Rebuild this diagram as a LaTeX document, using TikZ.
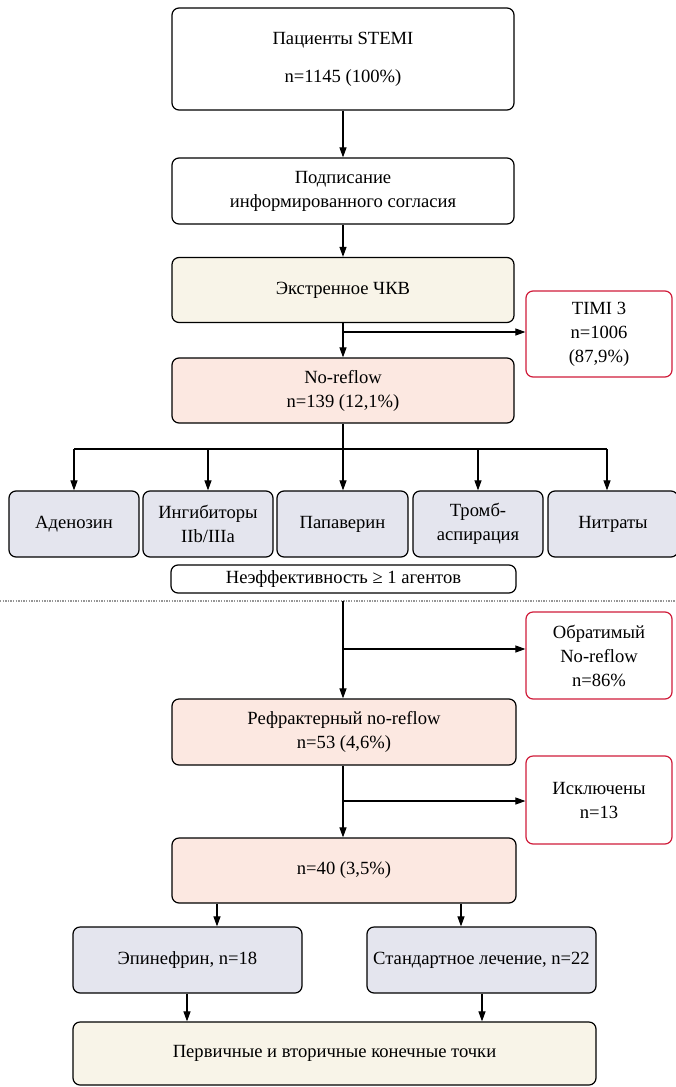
\documentclass[tikz,border=0pt]{standalone}
\usepackage{fontspec}
\setmainfont{Liberation Serif}
\usetikzlibrary{arrows.meta,calc}
\definecolor{cream}{RGB}{248,244,232}
\definecolor{pinkbox}{RGB}{252,232,225}
\definecolor{lav}{RGB}{228,229,238}
\definecolor{redb}{RGB}{208,28,58}
\definecolor{dotgray}{RGB}{150,150,150}
\begin{document}
\begin{tikzpicture}[x=1pt,y=-1pt,
  box/.style={draw=black,line width=1.2pt,rounded corners=7pt,align=center,inner sep=0pt,
    font=\fontsize{18.6}{24}\selectfont},
  whitebox/.style={box,fill=white},
  creambox/.style={box,fill=cream},
  pinkb/.style={box,fill=pinkbox},
  lavbox/.style={box,fill=lav},
  redbox/.style={box,draw=redb,fill=white},
  arr/.style={line width=1.1pt,-{Triangle[length=10pt,width=7pt]}},
  ln/.style={line width=1.1pt}]
\useasboundingbox (0,0) rectangle (675,1087);

% top part
\node[whitebox,minimum width=342pt,minimum height=102pt] (top) at (343,59)
  {Пациенты STEMI\\[14pt]n=1145 (100\%)};
\node[whitebox,minimum width=342pt,minimum height=66pt] (cons) at (343,191)
  {Подписание\\информированного согласия};
\node[creambox,minimum width=342pt,minimum height=65pt] (pci) at (343,290)
  {Экстренное ЧКВ};
\node[redbox,minimum width=146pt,minimum height=86pt] (timi) at (599,334)
  {TIMI 3\\n=1006\\(87,9\%)};
\node[pinkb,minimum width=342pt,minimum height=65pt] (nr) at (343,390.5)
  {No-reflow\\n=139 (12,1\%)};

% agents
\node[lavbox,minimum width=130pt,minimum height=66pt] (aden) at (74,524) {Аденозин};
\node[lavbox,minimum width=130pt,minimum height=66pt] (ingib) at (208,524) {Ингибиторы\\IIb/IIIa};
\node[lavbox,minimum width=131pt,minimum height=66pt] (papa) at (342.5,524) {Папаверин};
\node[lavbox,minimum width=130pt,minimum height=66pt] (tromb) at (478,524) {Тромб-\\аспирация};
\node[lavbox,minimum width=130pt,minimum height=66pt] (nitr) at (613,524) {Нитраты};
\node[whitebox,minimum width=345pt,minimum height=28pt] (neff) at (343.5,579)
  {Неэффективность ≥ 1 агентов};

% dotted separator
\coordinate (sepL) at (0,601);
\coordinate (sepR) at (675,601);
\draw[dotgray,line width=2pt,dash pattern=on 1.3pt off 1.3pt] (sepL) -- (sepR);

% bottom part
\node[redbox,minimum width=146pt,minimum height=87pt] (obr) at (599,655.5)
  {Обратимый\\No-reflow\\n=86\%};
\node[pinkb,minimum width=344pt,minimum height=66pt] (refr) at (344,732)
  {Рефрактерный no-reflow\\n=53 (4,6\%)};
\node[redbox,minimum width=146pt,minimum height=88pt] (iskl) at (599,800)
  {Исключены\\n=13};
\node[pinkb,minimum width=344pt,minimum height=65pt] (n40) at (344,870.5)
  {n=40 (3,5\%)};
\node[lavbox,minimum width=229pt,minimum height=66pt] (epi) at (187.5,960)
  {Эпинефрин, n=18};
\node[lavbox,minimum width=229pt,minimum height=66pt] (std) at (481.5,960)
  {Стандартное лечение, n=22};
\node[creambox,minimum width=523pt,minimum height=63pt] (fin) at (334.5,1053.5)
  {Первичные и вторичные конечные точки};

% connectors top
\draw[arr] (top.south) -- (cons.north);
\draw[arr] (cons.south) -- (pci.north);
\coordinate (b1) at (343,332);
\draw[arr] (pci.south) -- (nr.north);
\draw[arr] (b1) -- (b1 -| timi.west);

\coordinate (bL) at (74,449);
\coordinate (bR) at (607,449);
\draw[ln] (nr.south) -- (nr.south |- bL);
\draw[ln] (bL) -- (bR);
\draw[arr] (bL) -- (aden.north);
\draw[arr] (bL -| ingib.north) -- (ingib.north);
\draw[arr] (nr.south |- bL) -- (nr.south |- papa.north);
\draw[arr] (bL -| tromb.north) -- (tromb.north);
\draw[arr] (bR) -- (bR |- nitr.north);

% connectors bottom
\coordinate (cut) at (343,601);
\coordinate (b2) at (343,649);
\coordinate (b3) at (343,801);
\draw[arr] (cut) -- (cut |- refr.north);
\draw[arr] (b2) -- (b2 -| obr.west);
\draw[arr] (refr.south -| b3) -- (b3 |- n40.north);
\draw[arr] (b3) -- (b3 -| iskl.west);

\coordinate (x1) at (217,0);
\coordinate (x2) at (461,0);
\coordinate (x3) at (187,0);
\coordinate (x4) at (482,0);
\draw[arr] (n40.south -| x1) -- (epi.north -| x1);
\draw[arr] (n40.south -| x2) -- (std.north -| x2);
\draw[arr] (epi.south -| x3) -- (fin.north -| x3);
\draw[arr] (std.south -| x4) -- (fin.north -| x4);
\end{tikzpicture}
\end{document}
